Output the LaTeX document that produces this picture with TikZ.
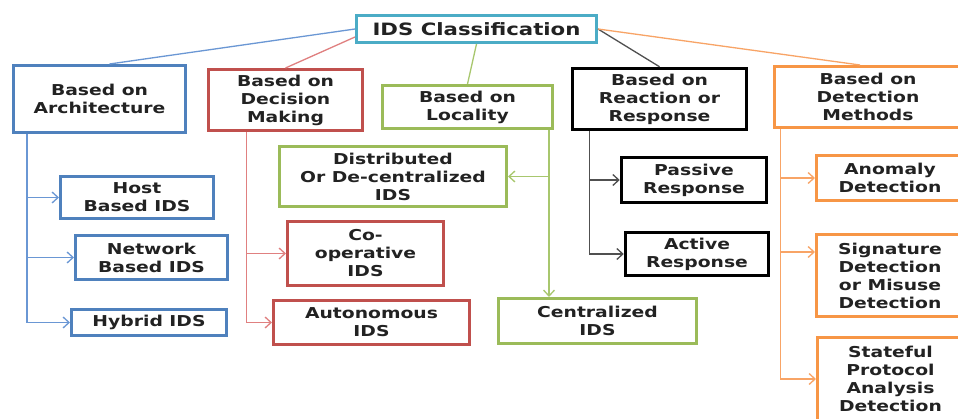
\documentclass[tikz,border=0pt]{standalone}
\usepackage{fontspec}
\setmainfont{DejaVu Sans}[FakeStretch=1.25]
\usetikzlibrary{arrows.meta,calc}
\definecolor{ccyan}{HTML}{4BACC6}
\definecolor{cblue}{HTML}{4F81BD}
\definecolor{cred}{HTML}{C0504D}
\definecolor{cgreen}{HTML}{9BBB59}
\definecolor{corange}{HTML}{F79646}
\definecolor{lblue}{HTML}{6A97D4}
\definecolor{lred}{HTML}{E08080}
\definecolor{lgreen}{HTML}{A8C76E}
\definecolor{lorange}{HTML}{F8A466}
\definecolor{lblack}{HTML}{505050}
\definecolor{txt}{HTML}{222222}
\begin{document}
\begin{tikzpicture}[x=1pt,y=-1pt,
  box/.style={draw, line width=3pt, rectangle, inner sep=0pt, align=center,
    font=\fontsize{15}{18}\selectfont\bfseries, text=txt},
  conn/.style={line width=1.3pt},
  tip/.style={-{Straight Barb[length=6pt,width=11pt]}}
]
\useasboundingbox (0,0) rectangle (958,419);
\clip (0,0) rectangle (958,419);
\fill[white] (0,0) rectangle (958,419);

% nodes
\node[box, draw=ccyan, minimum width=240pt, minimum height=27pt, font=\fontsize{17}{20}\selectfont\bfseries] (root) at (476.5,29) {IDS Classification};
\node[box, draw=cblue, minimum width=172pt, minimum height=67pt] (arch) at (99.5,99) {Based on\\Architecture};
\node[box, draw=cred, minimum width=154pt, minimum height=61pt] (dec) at (285.5,100) {Based on\\Decision\\Making};
\node[box, draw=cgreen, minimum width=170pt, minimum height=43pt] (loc) at (467.5,107) {Based on\\Locality};
\node[box, draw=black, line width=3.5pt, minimum width=174pt, minimum height=61pt] (react) at (659.5,99) {Based on\\Reaction or\\Response};
\node[box, draw=corange, minimum width=187pt, minimum height=61pt] (det) at (868,97) {Based on\\Detection\\Methods};

\node[box, draw=cgreen, minimum width=227pt, minimum height=60pt] (dist) at (393,176.5) {Distributed\\Or De-centralized\\IDS};
\node[box, draw=cblue, minimum width=153pt, minimum height=42pt] (host) at (137,197.5) {Host\\Based IDS};
\node[box, draw=cblue, minimum width=152pt, minimum height=44pt] (net) at (151.5,257.5) {Network\\Based IDS};
\node[box, draw=cblue, minimum width=155pt, minimum height=26pt] (hyb) at (149,322.5) {Hybrid IDS};
\node[box, draw=cred, minimum width=156pt, minimum height=64pt] (coop) at (365.5,253.5) {Co-\\operative\\IDS};
\node[box, draw=cred, minimum width=196pt, minimum height=44pt] (auto) at (371.5,322.5) {Autonomous\\IDS};
\node[box, draw=cgreen, minimum width=198pt, minimum height=45pt] (cent) at (597.5,321) {Centralized\\IDS};
\node[box, draw=black, line width=3.5pt, minimum width=145pt, minimum height=45pt] (pass) at (694,180) {Passive\\Response};
\node[box, draw=black, line width=3.5pt, minimum width=143pt, minimum height=43pt] (act) at (697,254) {Active\\Response};
\node[box, draw=corange, minimum width=147pt, minimum height=45pt] (anom) at (890,178) {Anomaly\\Detection};
\node[box, draw=corange, minimum width=147pt, minimum height=82pt] (sig) at (890,275.5) {Signature\\Detection\\or Misuse\\Detection};
\node[box, draw=corange, minimum width=146pt, minimum height=83pt] (state) at (890.5,379) {Stateful\\Protocol\\Analysis\\Detection};

% top connectors
\draw[conn, lblue] (root.west) -- ($(arch.north)+(10,0)$);
\draw[conn, lred] ($(root.west)+(0,8)$) -- (dec.north);
\draw[conn, lgreen] (root.south) -- (loc.north);
\draw[conn, lblack] (root.east) -- (react.north);
\draw[conn, lorange] (root.east) -- ($(det.north)+(-8,0)$);

% architecture tree
\coordinate (av) at ($(arch.south west)+(15,0)$);
\draw[conn, lblue, tip] (av) |- (hyb.west);
\draw[conn, lblue, tip] (av |- host.west) -- (host.west);
\draw[conn, lblue, tip] (av |- net.west) -- (net.west);

% decision tree
\coordinate (dv) at ($(dec.south west)+(39.5,0)$);
\draw[conn, lred, tip] (dv) |- (auto.west);
\draw[conn, lred, tip] (dv |- coop.west) -- (coop.west);

% locality tree
\coordinate (lv) at ($(loc.south east)+(-5,0)$);
\draw[conn, lgreen, tip] (lv) -- (lv |- cent.north);
\draw[conn, lgreen, tip] (lv |- dist.east) -- (dist.east);

% reaction tree
\coordinate (rv) at ($(react.south west)+(19,0)$);
\draw[conn, lblack, tip] (rv) |- (act.west);
\draw[conn, lblack, tip] (rv |- pass.west) -- (pass.west);

% detection tree
\coordinate (ov) at ($(det.south west)+(7.5,0)$);
\coordinate (sigin) at ($(sig.north west)+(0,19)$);
\draw[conn, lorange, tip] (ov) |- (state.west);
\draw[conn, lorange, tip] (ov |- anom.west) -- (anom.west);
\draw[conn, lorange, tip] (ov |- sigin) -- (sigin);
\end{tikzpicture}
\end{document}
